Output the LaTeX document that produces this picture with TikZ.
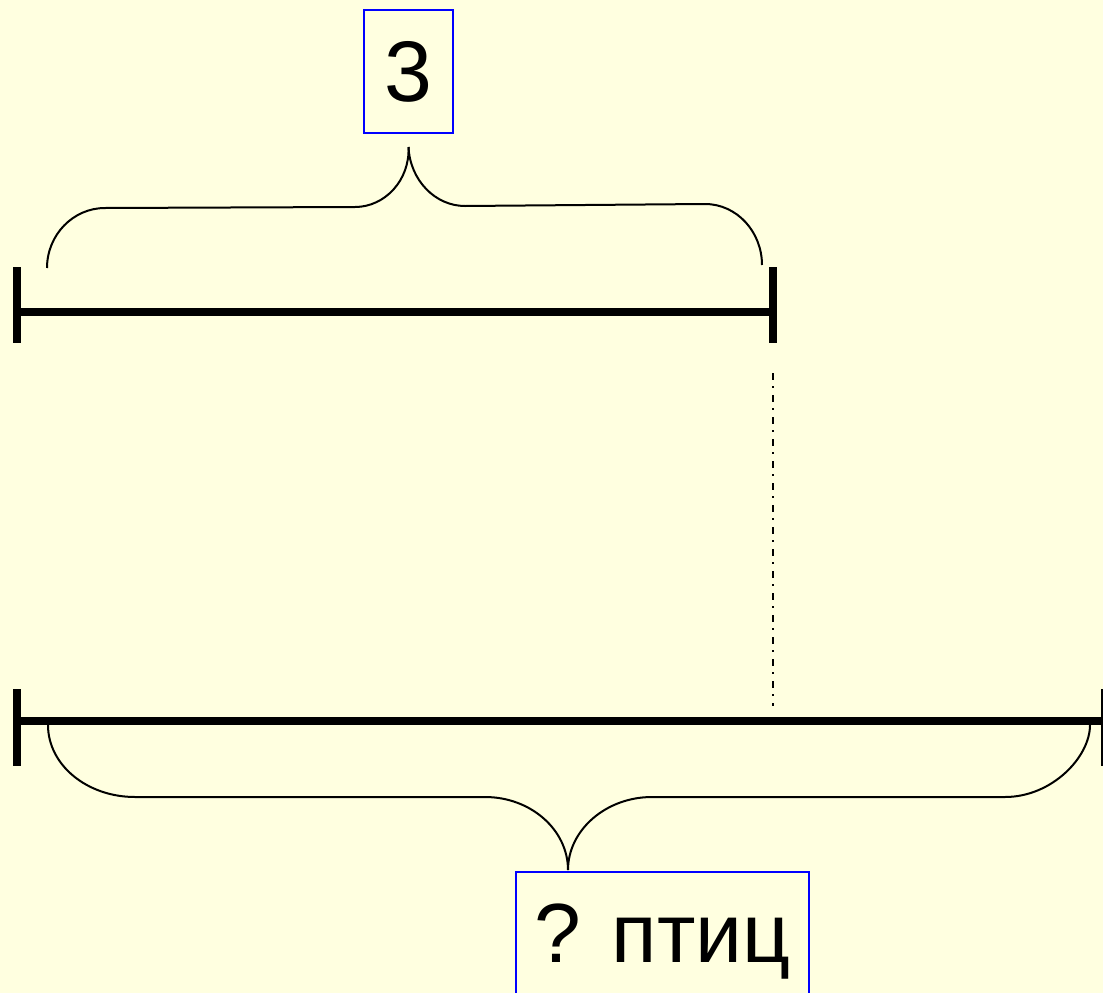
\documentclass[tikz,border=0pt]{standalone}
\usepackage{fontspec}
\setmainfont{Liberation Sans}
\usetikzlibrary{positioning}
\definecolor{paper}{HTML}{FFFFE0}

\begin{document}
\begin{tikzpicture}[
				x=1pt, y=-1pt,
				boxnode/.style={rectangle, draw=blue, line width=1.5pt, inner sep=0pt, font=\fontsize{86}{90}\selectfont},
				segline/.style={line width=7.5pt},
				tickline/.style={line width=8pt},
				braceline/.style={line width=2pt},
				dashdot/.style={line width=2pt, dash pattern=on 7pt off 6pt on 2pt off 7pt},
				]
				\clip (0,0) rectangle (1103,993);
				\fill[paper] (0,0) rectangle (1103,993);
				
				%Nodes
				\node[boxnode, minimum width=89pt, minimum height=123pt](three) at (408.5,71.5){3};
				\node[boxnode, minimum width=293pt, minimum height=122pt, text depth=0pt, font=\fontsize{84}{88}\selectfont](birds) at (662.5,933){? птиц};
				\coordinate (topL) at (17,312);
				\coordinate (topR) at (773,312);
				\coordinate (botL) at (17,721);
				\coordinate (botR) at (1105,721);
				\coordinate (markA) at (773,373);
				\coordinate (markB) at (773,706);
				
				%Lines
				\draw[segline] (topL) -- (topR);
				\draw[tickline] (17,267) -- (17,343);
				\draw[tickline] (773,267) -- (773,343);
				\draw[segline] (botL) -- (botR);
				\draw[tickline] (17,689) -- (17,766);
				\draw[tickline] (1105,689) -- (1105,766);
				\draw[dashdot] (markA) -- (markB);
				
				%Braces
				\draw[braceline] (47,268) .. controls (47,235) and (73,208) .. (105,208) -- (355,207)
					.. controls (385,207) and (410,180) .. (three.south |- 0,147);
				\draw[braceline] (three.south |- 0,147) .. controls (410,180) and (435,206) .. (465,206)
					-- (705,204) .. controls (737,204) and (762,232) .. (762,265);
				\draw[braceline] (48,725) .. controls (48,765) and (87,797) .. (135,797) -- (485,797)
					.. controls (531,797) and (568,830) .. (568,870);
				\draw[braceline] (568,870) .. controls (568,830) and (606,797) .. (652,797)
					-- (1005,797) .. controls (1052,797) and (1090,757) .. (1090,725);
				
\end{tikzpicture}
\end{document}
